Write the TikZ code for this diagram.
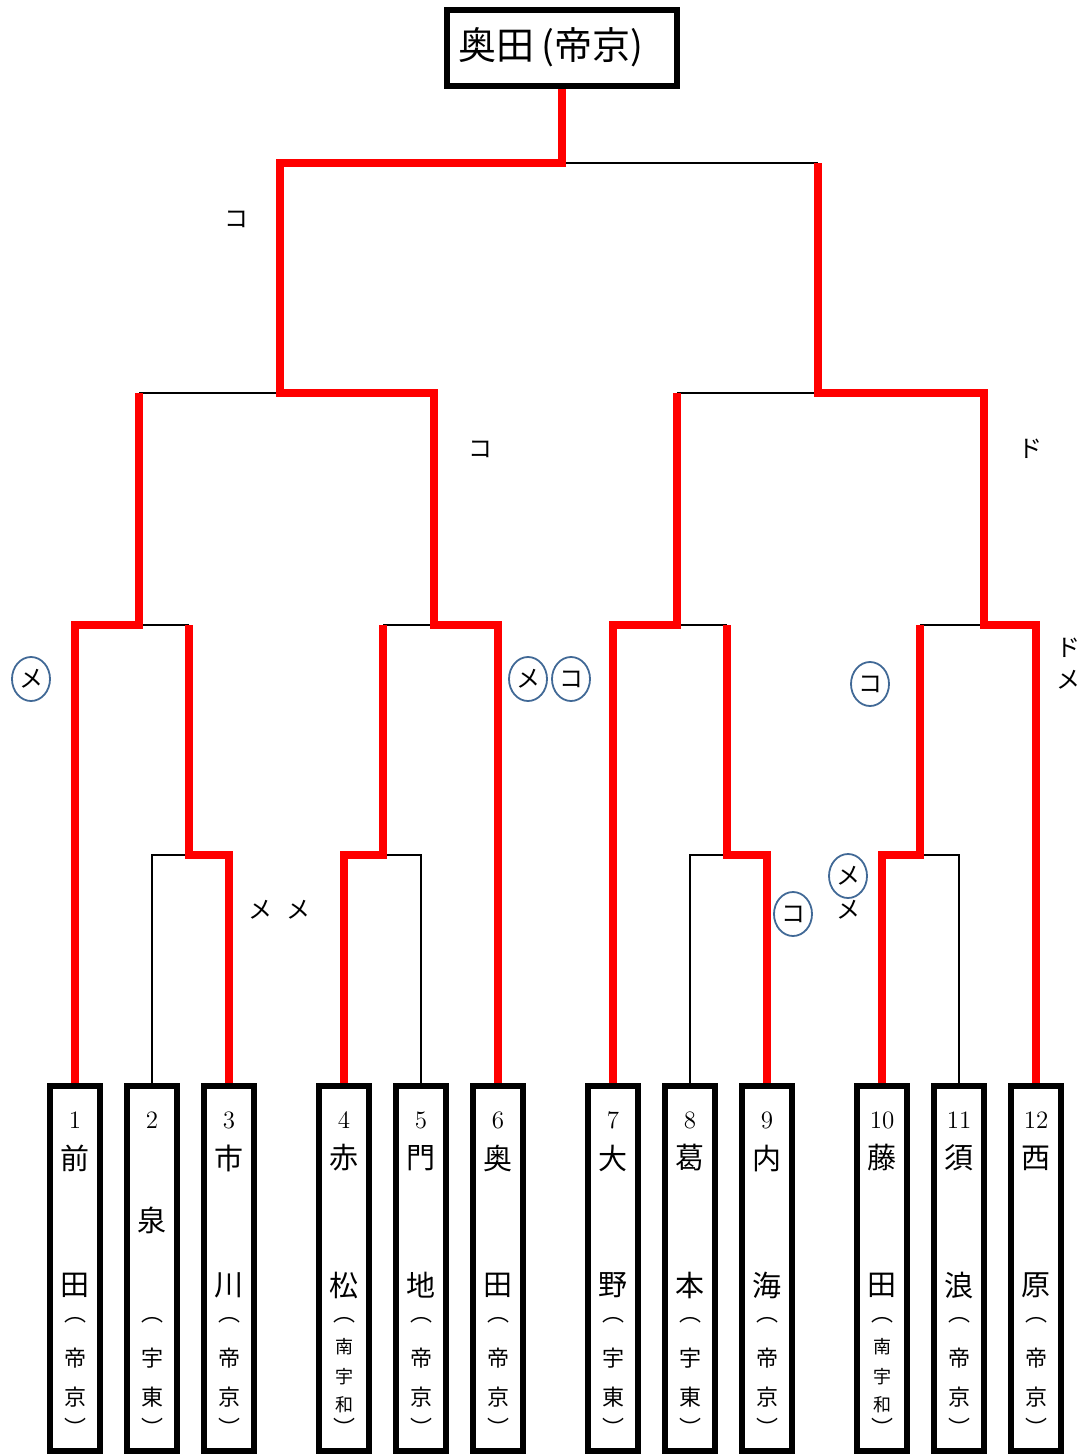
\documentclass[tikz,border=0pt]{standalone}
\usepackage{fontspec}
\newfontfamily\jp{Noto Sans CJK JP}
\usetikzlibrary{shapes.geometric}
\definecolor{winred}{RGB}{255,0,0}
\definecolor{ringc}{RGB}{65,105,150}
\newcommand\plbox[6]{%
  \node[pbox] (p#1) at (#2,1268.5) {};
  \node[num] (p#1n) at (#2,1120) {#1};
  \node[big] (p#1a) at (#2,1158) {#3};
  \node[big] (p#1b) at (#2,1285) {#4};
  \node[sm] (p#1o) at (#2,1320) {︵};
  \node[sm] (p#1s) at (#2,1358) {#5};
  \node[sm] (p#1t) at (#2,1397) {#6};
  \node[sm] (p#1c) at (#2,1427) {︶};
}
\newcommand\plboxm[4]{%
  \node[pbox] (p#1) at (#2,1268.5) {};
  \node[num] (p#1n) at (#2,1120) {#1};
  \node[big] (p#1a) at (#2,1158) {#3};
  \node[big] (p#1b) at (#2,1285) {#4};
  \node[sm] (p#1o) at (#2,1320) {︵};
  \node[xs] (p#1s) at (#2,1347) {南};
  \node[xs] (p#1t) at (#2,1377) {宇};
  \node[xs] (p#1u) at (#2,1405) {和};
  \node[sm] (p#1c) at (#2,1427) {︶};
}
\begin{document}
\begin{tikzpicture}[x=0.5pt,y=-0.5pt,
  pbox/.style={draw,line width=3pt,minimum width=25pt,minimum height=182.5pt,inner sep=0pt},
  titlebox/.style={draw,line width=3.2pt,minimum width=114.8pt,minimum height=37.8pt,inner sep=0pt},
  title/.style={font=\jp\fontsize{19}{19}\selectfont,inner sep=0pt},
  num/.style={font=\fontsize{12.5}{12.5}\selectfont,inner sep=0pt},
  big/.style={font=\jp\fontsize{14.5}{14.5}\selectfont,inner sep=0pt},
  sm/.style={font=\jp\fontsize{11}{11}\selectfont,inner sep=0pt},
  xs/.style={font=\jp\fontsize{9}{9}\selectfont,inner sep=0pt},
  note/.style={font=\jp\fontsize{12}{12}\selectfont,inner sep=0pt},
  ring/.style={ellipse,draw=ringc,line width=0.9pt,minimum width=19pt,minimum height=22pt,inner sep=0pt,font=\jp\fontsize{12}{12}\selectfont},
  win/.style={draw=winred,line width=3.6pt,line join=miter},
  lose/.style={draw=black,line width=1pt}]
\useasboundingbox (0,0) rectangle (1084,1455);
% champion
\node[titlebox] (champ) at (562,48) {};
\node[title] (champt) at (551,47) {奥田\,(帝京)};
% players
\plbox{1}{75}{前}{田}{帝}{京}
\node[pbox] (p2) at (152,1268.5) {};
\node[num] (p2n) at (152,1120) {2};
\node[big] (p2a) at (152,1220) {泉};
\node[sm] (p2o) at (152,1320) {︵};
\node[sm] (p2s) at (152,1358) {宇};
\node[sm] (p2t) at (152,1397) {東};
\node[sm] (p2c) at (152,1427) {︶};
\plbox{3}{229}{市}{川}{帝}{京}
\plboxm{4}{344}{赤}{松}
\plbox{5}{421}{門}{地}{帝}{京}
\plbox{6}{498}{奥}{田}{帝}{京}
\plbox{7}{613}{大}{野}{宇}{東}
\plbox{8}{690}{葛}{本}{宇}{東}
\plbox{9}{767}{内}{海}{帝}{京}
\plboxm{10}{882}{藤}{田}
\plbox{11}{959}{須}{浪}{帝}{京}
\plbox{12}{1036}{西}{原}{帝}{京}
% junctions
\coordinate (F) at (562,163); \coordinate (FL) at (280,163); \coordinate (FR) at (818,163);
\coordinate (SL) at (280,393); \coordinate (SLa) at (139,393); \coordinate (SLb) at (434,393);
\coordinate (SR) at (818,393); \coordinate (SRa) at (677,393); \coordinate (SRb) at (984,393);
\coordinate (QA) at (139,625); \coordinate (QAa) at (75,625); \coordinate (QAb) at (189,625);
\coordinate (QB) at (434,625); \coordinate (QBa) at (383,625); \coordinate (QBb) at (498,625);
\coordinate (QC) at (677,625); \coordinate (QCa) at (613,625); \coordinate (QCb) at (727,625);
\coordinate (QD) at (984,625); \coordinate (QDa) at (920,625); \coordinate (QDb) at (1036,625);
\coordinate (RA) at (189,855); \coordinate (RAa) at (152,855); \coordinate (RAb) at (229,855);
\coordinate (RB) at (383,855); \coordinate (RBa) at (344,855); \coordinate (RBb) at (421,855);
\coordinate (RC) at (727,855); \coordinate (RCa) at (690,855); \coordinate (RCb) at (767,855);
\coordinate (RD) at (920,855); \coordinate (RDa) at (882,855); \coordinate (RDb) at (959,855);
% losing lines
\draw[lose] (F) -- (FR);
\draw[lose] (SLa) -- (SL);
\draw[lose] (SRa) -- (SR);
\draw[lose] (QA) -- (QAb);
\draw[lose] (QBa) -- (QB);
\draw[lose] (QC) -- (QCb);
\draw[lose] (QDa) -- (QD);
\draw[lose] (p2.north) -- (RAa) -- (RA);
\draw[lose] (RB) -- (RBb) -- (p5.north);
\draw[lose] (p8.north) -- (RCa) -- (RC);
\draw[lose] (RD) -- (RDb) -- (p11.north);
% winning lines
\draw[win] (p1.north) -- (QAa) -- (QA) -- (SLa);
\draw[win] (p3.north) -- (RAb) -- (RA) -- (QAb);
\draw[win] (p4.north) -- (RBa) -- (RB) -- (QBa);
\draw[win] (p6.north) -- (QBb) -- (QB) -- (SLb) -- (SL) -- (FL) -- (F) -- (champ.south);
\draw[win] (p7.north) -- (QCa) -- (QC) -- (SRa);
\draw[win] (p9.north) -- (RCb) -- (RC) -- (QCb);
\draw[win] (p10.north) -- (RDa) -- (RD) -- (QDa);
\draw[win] (p12.north) -- (QDb) -- (QD) -- (SRb) -- (SR) -- (FR);
% notes
\node[note] (n1) at (236,219) {コ};
\node[note] (n2) at (480,449) {コ};
\node[note] (n3) at (1030,449) {ド};
\node[ring] (c1) at (31,679) {メ};
\node[ring] (c2) at (528,679) {メ};
\node[ring] (c3) at (571,679) {コ};
\node[ring] (c4) at (870,684) {コ};
\node[note] (n4) at (1068,648) {ド};
\node[note] (n5) at (1068,680) {メ};
\node[note] (n6) at (260,910) {メ};
\node[note] (n7) at (298,910) {メ};
\node[ring] (c5) at (848,876) {メ};
\node[note] (n8) at (848,910) {メ};
\node[ring] (c6) at (793,914) {コ};
\end{tikzpicture}
\end{document}
